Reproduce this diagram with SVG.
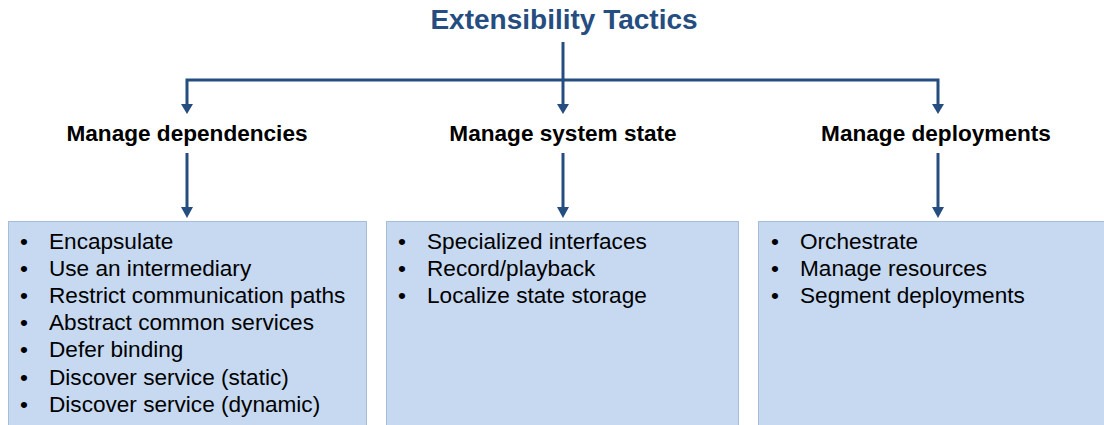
<svg xmlns="http://www.w3.org/2000/svg" width="1104" height="425" viewBox="0 0 1104 425">
<defs>
<style>
.title{font-family:"Liberation Sans",Arial,sans-serif;font-weight:bold;font-size:28px;fill:#264d80;text-anchor:middle}
.hdr{font-family:"Liberation Sans",Arial,sans-serif;font-weight:bold;font-size:22.6px;fill:#000;text-anchor:middle}
.item{font-family:"Liberation Sans",Arial,sans-serif;font-size:22.6px;fill:#000}
.box{fill:#c6d9f0;stroke:#a7bcd6;stroke-width:1}
.ln{stroke:#264d80;stroke-width:3;fill:none}
.ah{fill:#264d80}
</style>
</defs>
<rect width="1104" height="425" fill="#fff"/>
<g id="title"><text class="title" x="564" y="29">Extensibility Tactics</text></g>
<g id="connectors">
<path class="ln" d="M563,42 V106"/>
<path class="ln" d="M187,106 V80 H938 V106"/>
<path class="ln" d="M187,153 V210"/>
<path class="ln" d="M563,153 V210"/>
<path class="ln" d="M938,153 V210"/>
<path class="ah" d="M181,104 L193,104 L187,114 z"/>
<path class="ah" d="M557,104 L569,104 L563,114 z"/>
<path class="ah" d="M932,104 L944,104 L938,114 z"/>
<path class="ah" d="M181,207 L193,207 L187,218 z"/>
<path class="ah" d="M557,207 L569,207 L563,218 z"/>
<path class="ah" d="M932,207 L944,207 L938,218 z"/>
</g>
<g id="hdr-deps"><text class="hdr" x="187" y="141">Manage dependencies</text></g>
<g id="hdr-state"><text class="hdr" x="563" y="141">Manage system state</text></g>
<g id="hdr-deploy"><text class="hdr" x="936" y="141">Manage deployments</text></g>
<g id="box-deps">
<rect class="box" x="8.5" y="221.5" width="358" height="210"/>
<g class="item">
<text x="20" y="249">•</text><text x="49" y="249">Encapsulate</text>
<text x="20" y="276">•</text><text x="49" y="276">Use an intermediary</text>
<text x="20" y="303">•</text><text x="49" y="303">Restrict communication paths</text>
<text x="20" y="330">•</text><text x="49" y="330">Abstract common services</text>
<text x="20" y="357">•</text><text x="49" y="357">Defer binding</text>
<text x="20" y="385">•</text><text x="49" y="385">Discover service (static)</text>
<text x="20" y="412">•</text><text x="49" y="412">Discover service (dynamic)</text>
</g>
</g>
<g id="box-state">
<rect class="box" x="386.5" y="221.5" width="352" height="210"/>
<g class="item">
<text x="398" y="249">•</text><text x="427" y="249">Specialized interfaces</text>
<text x="398" y="276">•</text><text x="427" y="276">Record/playback</text>
<text x="398" y="303">•</text><text x="427" y="303">Localize state storage</text>
</g>
</g>
<g id="box-deploy">
<rect class="box" x="758.5" y="221.5" width="352" height="210"/>
<g class="item">
<text x="771" y="249">•</text><text x="800" y="249">Orchestrate</text>
<text x="771" y="276">•</text><text x="800" y="276">Manage resources</text>
<text x="771" y="303">•</text><text x="800" y="303">Segment deployments</text>
</g>
</g>
</svg>
